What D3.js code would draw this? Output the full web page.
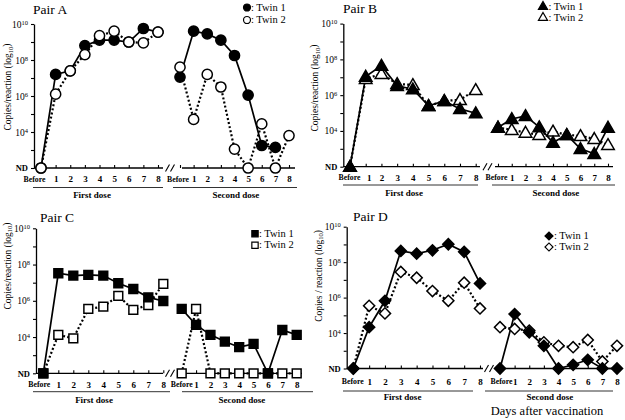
<!DOCTYPE html>
<html><head><meta charset="utf-8">
<script src="https://cdn.jsdelivr.net/npm/d3@7"></script>
<style>
body{margin:0;background:#fff;}
svg text{font-family:"Liberation Serif","Times New Roman",serif;fill:#000;}
</style>
</head><body>
<svg id="chart" width="625" height="420"></svg>
<script>
// ---------- data (values are log10 copies/reaction; "ND" = not detected; null = no point) ----------
const days = ["Before","1","2","3","4","5","6","7","8"];
const yTickValues = [2,3,4,5,6,7,8,9,10];   // 2 is the ND level
const twinLabels = [": Twin 1", ": Twin 2"];
const doseLabels = ["First dose", "Second dose"];
const pairNames = ["Pair A", "Pair B", "Pair C", "Pair D"];
const xTitle = "Days after vaccination";

const pairA_twin1_first  = ["ND", 7.2, 7.4, 8.8, 9.1, 9.1, 9.0, 9.75, 9.55];
const pairA_twin2_first  = ["ND", 6.1, 7.4, 8.3, 9.35, 9.6, 9.0, 8.95, 9.55];
const pairA_twin1_second = [7.05, 9.6, 9.45, 9.1, 8.25, 6.05, 3.25, 3.15, null];
const pairA_twin2_second = [7.6, 4.7, 7.2, 6.5, 3.05, "ND", 4.45, "ND", 3.8];

const pairB_twin1_first  = ["ND", 7.04, 7.65, 6.52, 6.33, 5.4, 5.68, 5.23, 4.99];
const pairB_twin2_first  = ["ND", 6.91, 7.19, 6.63, 6.57, 5.4, 5.68, 5.74, 6.29];
const pairB_twin1_second = [4.19, 4.67, 4.84, 4.21, 3.35, 3.78, 3.0, 2.72, 4.19];
const pairB_twin2_second = [4.19, 4.06, 3.91, 3.78, 3.97, 3.78, 3.72, 3.56, 3.22];

const pairC_twin1_first  = ["ND", 7.52, 7.39, 7.43, 7.39, 6.97, 6.65, 6.19, 5.99];
const pairC_twin2_first  = ["ND", 4.12, 3.93, 5.55, 5.68, 6.27, 5.5, 5.77, 6.93];
const pairC_twin1_second = [5.55, 4.67, 4.12, 3.75, 3.44, 3.62, "ND", 4.39, 4.12];
const pairC_twin2_second = ["ND", 5.55, "ND", "ND", "ND", "ND", "ND", "ND", "ND"];

const pairD_twin1_first  = ["ND", 4.33, 5.82, 8.63, 8.48, 8.67, 9.01, 8.58, 6.8];
const pairD_twin2_first  = ["ND", 5.54, 5.11, 7.45, 7.12, 6.37, 5.82, 6.84, 5.39];
const pairD_twin1_second = ["ND", 5.07, 4.04, 3.28, "ND", 2.21, 2.49, "ND", "ND"];
const pairD_twin2_second = [4.33, 4.23, 4.14, 3.48, 3.28, 3.2, 3.61, 2.4, 3.28];

// ---------- layout ----------
const panels = [
  {name:pairNames[0], t1f:pairA_twin1_first, t2f:pairA_twin2_first, t1s:pairA_twin1_second, t2s:pairA_twin2_second,
   symbol:"circle", twin2OnTop:true, titleX:33, titleY:14, axisX:34, yTop:24, yND:168,
   x1:[41,158], x2:[180,289], seg1:[34,163], brk:170, seg2:[182,295], beforeDx:[-7,-2.5], oneDx:[0,0],
   under1:[33,163], under2:[173,297], underY:187.5, doseY:197.5, dose1X:92, dose2X:236, pad:8,
   yLabX:11, yLabY:87, yLabText:"Copies/reaction (log", legX:247, legY:[6.5,19], legTextX:251},
  {name:pairNames[1], t1f:pairB_twin1_first, t2f:pairB_twin2_first, t1s:pairB_twin1_second, t2s:pairB_twin2_second,
   symbol:"triangle", twin2OnTop:false, titleX:343, titleY:13, axisX:343.3, yTop:23.6, yND:166.7,
   x1:[350,475.7], x2:[498,608], seg1:[343.3,480], brk:487.5, seg2:[495,613], beforeDx:[-1,-2], oneDx:[3,0],
   under1:[343,478], under2:[492,615], underY:185, doseY:196, dose1X:404, dose2X:556, pad:7.5,
   yLabX:318, yLabY:88, yLabText:"Copies/reaction (log", legX:543, legY:[5.7,16.7], legTextX:548.5},
  {name:pairNames[2], t1f:pairC_twin1_first, t2f:pairC_twin2_first, t1s:pairC_twin1_second, t2s:pairC_twin2_second,
   symbol:"square", twin2OnTop:false, titleX:40, titleY:222, axisX:36, yTop:228.3, yND:373.3,
   x1:[43.3,163.3], x2:[181.7,296.7], seg1:[36,163], brk:170, seg2:[177,302], beforeDx:[-4.5,-0.5], oneDx:[0,0],
   under1:[33,170], under2:[182,313], underY:391.7, doseY:403, dose1X:94, dose2X:242, pad:8,
   yLabX:10.5, yLabY:266, yLabText:"Copies/reaction (log", legX:255, legY:[232.7,244.3], legTextX:259},
  {name:pairNames[3], t1f:pairD_twin1_first, t2f:pairD_twin2_first, t1s:pairD_twin1_second, t2s:pairD_twin2_second,
   symbol:"diamond", twin2OnTop:false, titleX:353, titleY:221, axisX:346.7, yTop:226.7, yND:368.5,
   x1:[353.3,480], x2:[500,617], seg1:[346.7,483], brk:489, seg2:[495,618], beforeDx:[-1,1], oneDx:[0,0],
   under1:[343,473], under2:[485,613], underY:391, doseY:400, dose1X:402.5, dose2X:550, pad:10,
   yLabX:321.5, yLabY:276, yLabText:"Copies / reaction (log", legX:549, legY:[235,246], legTextX:554}
];

const svg = d3.select("#chart");
svg.append("rect").attr("width",625).attr("height",420).attr("fill","#fff");

const symbolTypes = {circle:d3.symbolCircle, triangle:d3.symbolTriangle, square:d3.symbolSquare, diamond:d3.symbolSquare};
const symbolSizes = {circle:82, triangle:68, square:78, diamond:62};
const legendSizes = {circle:38, triangle:36, square:40, diamond:32};

function val(v){ return v === "ND" ? 2 : v; }

function drawPanel(p){
  const g = svg.append("g");
  const y = d3.scaleLinear().domain([2,10]).range([p.yND, p.yTop]);
  const x1 = d3.scalePoint().domain(days).range(p.x1);
  const x2 = d3.scalePoint().domain(days).range(p.x2);

  // title
  g.append("text").attr("x",p.titleX).attr("y",p.titleY).attr("font-size",13.5).text(p.name);

  // y axis
  const ya = g.append("g").attr("transform",`translate(${p.axisX},0)`)
    .call(d3.axisLeft(y).tickValues(yTickValues).tickSize(3).tickSizeOuter(0).tickPadding(3));
  ya.attr("font-family",null).attr("font-size",null);
  ya.select(".domain").attr("stroke","#000").attr("stroke-width",1.3);
  ya.selectAll(".tick line").attr("stroke","#000").attr("stroke-width",1.1);
  ya.selectAll(".tick text").each(function(d){
    const t = d3.select(this); t.text(null);
    if (d === 2){ t.attr("font-size",8.5).attr("font-weight","bold").text("ND"); }
    else if (d % 2 === 0){
      t.attr("font-size",9.5);
      t.append("tspan").text("10");
      t.append("tspan").attr("dy","-0.45em").attr("font-size",6.5).text(d);
    }
  });

  // y label
  const yl = g.append("text").attr("transform",`translate(${p.yLabX},${p.yLabY}) rotate(-90)`)
    .attr("text-anchor","middle").attr("font-size",9.5);
  yl.append("tspan").text(p.yLabText);
  yl.append("tspan").attr("dy","0.3em").attr("font-size",6.5).text("10");
  yl.append("tspan").attr("dy","-0.3em").text(")");

  // x axes
  [[x1,p.seg1,p.beforeDx[0],p.oneDx[0]],[x2,p.seg2,p.beforeDx[1],p.oneDx[1]]].forEach(([xs,seg,bdx,odx])=>{
    g.append("line").attr("x1",seg[0]).attr("x2",seg[1]).attr("y1",p.yND).attr("y2",p.yND)
      .attr("stroke","#000").attr("stroke-width",1.3);
    const xa = g.append("g").attr("transform",`translate(0,${p.yND})`)
      .call(d3.axisBottom(xs).tickSize(-3).tickSizeOuter(0).tickPadding(p.pad));
    xa.attr("font-family",null).attr("font-size",null);
    xa.select(".domain").remove();
    xa.selectAll(".tick line").attr("stroke","#000").attr("stroke-width",1.1);
    xa.selectAll(".tick text").attr("font-weight","bold")
      .attr("font-size",d=>d==="Before"?7.8:9)
      .attr("dx",d=>d==="Before"?bdx:(d==="1"?odx:0));
  });
  // break marks
  [-2.5,2.5].forEach(o=>{
    g.append("line").attr("x1",p.brk+o-2).attr("y1",p.yND+3.5).attr("x2",p.brk+o+2).attr("y2",p.yND-3.5)
      .attr("stroke","#000").attr("stroke-width",1.1);
  });

  // dose underlines and labels
  [[p.under1,p.dose1X,doseLabels[0]],[p.under2,p.dose2X,doseLabels[1]]].forEach(([u,cx,lab])=>{
    g.append("line").attr("x1",u[0]).attr("x2",u[1]).attr("y1",p.underY).attr("y2",p.underY)
      .attr("stroke","#333").attr("stroke-width",1);
    g.append("text").attr("x",cx).attr("y",p.doseY).attr("text-anchor","middle")
      .attr("font-size",9).attr("font-weight","bold").text(lab);
  });

  // series lines
  const mk = xs => d3.line().defined(d=>d.v!==null).x(d=>xs(d.day)).y(d=>y(val(d.v)));
  const rows = arr => arr.map((v,i)=>({day:days[i], v}));
  const series = [
    {data:rows(p.t2f), xs:x1, twin:2}, {data:rows(p.t2s), xs:x2, twin:2},
    {data:rows(p.t1f), xs:x1, twin:1}, {data:rows(p.t1s), xs:x2, twin:1}
  ];
  series.forEach(s=>{
    g.append("path").attr("d",mk(s.xs)(s.data)).attr("fill","none").attr("stroke","#000")
      .attr("stroke-width", s.twin===1 ? 1.7 : 2.2)
      .attr("stroke-dasharray", s.twin===1 ? null : "2,2.2");
  });

  // markers
  const sym = d3.symbol().type(symbolTypes[p.symbol]).size(symbolSizes[p.symbol]);
  const rot = p.symbol==="diamond" ? " rotate(45)" : "";
  const order = p.twin2OnTop ? [1,2] : [2,1];
  order.forEach(tw=>{
    series.filter(s=>s.twin===tw).forEach(s=>{
      g.selectAll(null).data(s.data.filter(d=>d.v!==null)).enter().append("path")
        .attr("d",sym)
        .attr("transform",d=>`translate(${s.xs(d.day)},${y(val(d.v)) + (p.symbol==="triangle"?1:0)})${rot}`)
        .attr("fill", tw===1 ? "#000" : "#fff").attr("stroke","#000").attr("stroke-width",1.5);
    });
  });

  // legend
  const lsym = d3.symbol().type(symbolTypes[p.symbol]).size(legendSizes[p.symbol]);
  [1,2].forEach((tw,i)=>{
    g.append("path").attr("d",lsym)
      .attr("transform",`translate(${p.legX},${p.legY[i]+1})${rot}`)
      .attr("fill", tw===1 ? "#000" : "#fff").attr("stroke","#000").attr("stroke-width",1.2);
    g.append("text").attr("x",p.legTextX).attr("y",p.legY[i]+4).attr("font-size",10.5).text(twinLabels[i]);
  });
}

panels.forEach(drawPanel);

svg.append("text").attr("x",547).attr("y",415).attr("text-anchor","middle").attr("font-size",12.5).text(xTitle);
svg.selectAll("text").attr("font-family","'Liberation Serif','Times New Roman',serif");
</script>
</body></html>
